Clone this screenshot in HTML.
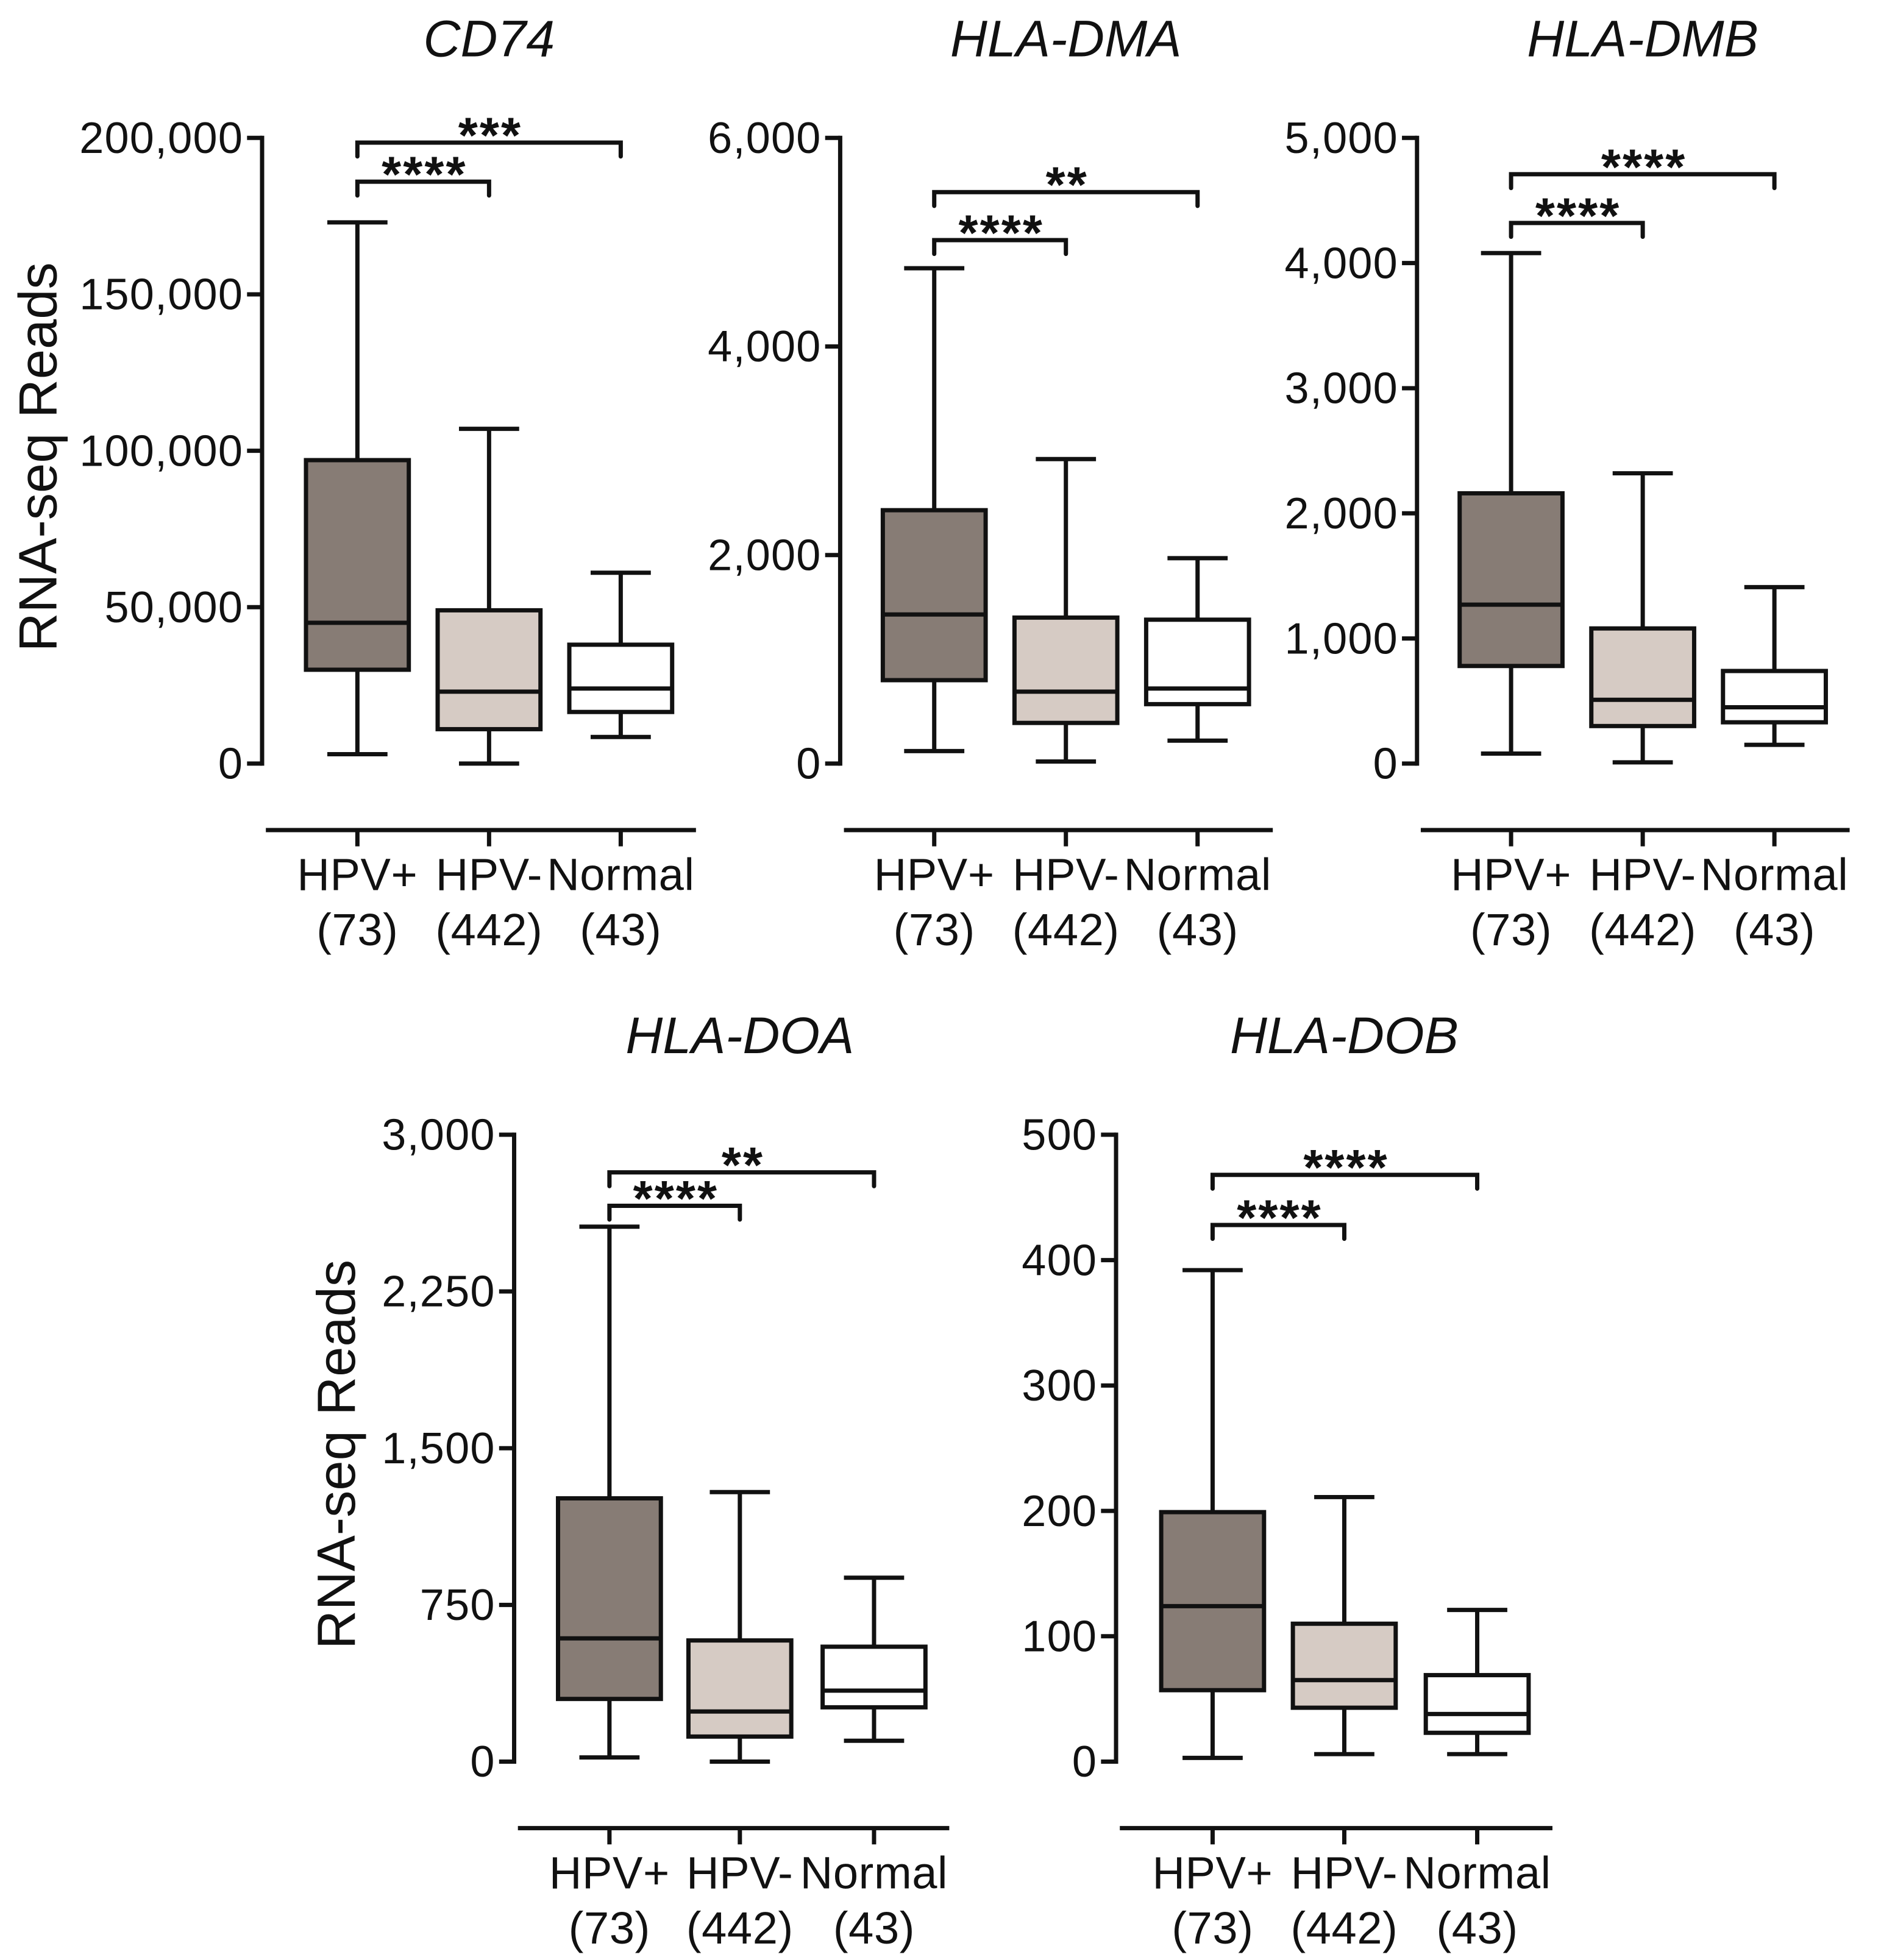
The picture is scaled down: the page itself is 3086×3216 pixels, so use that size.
<!DOCTYPE html>
<html><head><meta charset="utf-8">
<style>
html,body{margin:0;padding:0;background:#fff;}
svg{display:block;}
text{font-family:"Liberation Sans",Arial,sans-serif;fill:#111;}
</style></head>
<body>
<svg id="fig" width="3086" height="3216" viewBox="0 0 1500 1563.2" xmlns="http://www.w3.org/2000/svg"></svg>
<script>
// ---- data ----
const groups = ["HPV+", "HPV-", "Normal"];
const groupCounts = ["(73)", "(442)", "(43)"];
const genes = ["CD74", "HLA-DMA", "HLA-DMB", "HLA-DOA", "HLA-DOB"];
const yMaxes = [200000, 6000, 5000, 3000, 500];
const tickStep = [50000, 2000, 1000, 750, 100];
// [whiskerLow, q1, median, q3, whiskerHigh] per group
const cd74Stats = [[3000,30000,45000,97000,173000],[0,11000,23000,49000,107000],[8500,16500,24000,38000,61000]];
const dmaStats = [[120,800,1430,2430,4750],[20,390,690,1400,2920],[220,570,720,1380,1970]];
const dmbStats = [[80,780,1270,2160,4080],[10,300,510,1080,2320],[150,330,450,740,1410]];
const doaStats = [[20,300,590,1260,2560],[0,120,240,580,1290],[100,260,340,550,880]];
const dobStats = [[3,57,124,199,392],[6,43,65,110,211],[6,23,38,69,121]];
const allStats = [cd74Stats, dmaStats, dmbStats, doaStats, dobStats];
// significance brackets: [value of bracket1 (HPV+ vs HPV-), value of bracket2 (HPV+ vs Normal)]
const bracketVals = [[186000,198500],[5020,5480],[4320,4710],[2660,2820],[428,468]];
const bracketLabels = [["****","***"],["****","**"],["****","****"],["****","**"],["****","****"]];

// ---- layout (not data) ----
const layout = [
  {ax:209, top:110, zero:609, gx:[285,390,495], showY:true, ytx:30},
  {ax:670, top:110, zero:609, gx:[745,850,955], showY:false},
  {ax:1130, top:110, zero:609, gx:[1205,1310,1415], showY:false},
  {ax:410, top:905, zero:1405, gx:[486,590,697], showY:true, ytx:268},
  {ax:890, top:905, zero:1405, gx:[967,1072,1178], showY:false}
];
const fills = ["#877c75","#d6cbc4","#ffffff"];
const SW = 3.4;
const svg = document.getElementById('fig');
const NS = "http://www.w3.org/2000/svg";
function mk(tag, attrs, parent){
  const e = document.createElementNS(NS, tag);
  for (const k in attrs) e.setAttribute(k, attrs[k]);
  (parent||svg).appendChild(e);
  return e;
}
function fmt(v){ return v.toLocaleString('en-US'); }

genes.forEach((gene, pi) => {
  const L = layout[pi];
  const g = mk('g', {});
  
  
  const y = v => L.zero - (v / yMaxes[pi]) * (L.zero - L.top);
  const t = mk('text', {x: L.gx[1], y: L.top - 65, 'font-size': 41, 'font-style':'italic', 'text-anchor':'middle'}, g);
  
  
  t.textContent = gene;
  const ya = mk('line', {x1:L.ax, x2:L.ax, y1:L.top - SW/2, y2:L.zero + SW/2, stroke:'#111', 'stroke-width':SW}, g);
  
  
  for (let v = 0; v <= yMaxes[pi] + 1e-9; v += tickStep[pi]) {
    const tk = mk('line', {x1:L.ax - 12, x2:L.ax, y1:y(v), y2:y(v), stroke:'#111', 'stroke-width':SW}, g);
    
    
    const tl = mk('text', {x:L.ax - 15, y:y(v) + 12, 'font-size':35, 'text-anchor':'end', 'letter-spacing':0.6}, g);
    
    
    tl.textContent = fmt(v);
  }
  if (L.showY) {
    const cy = (L.top + L.zero) / 2 + 5;
    const yt = mk('text', {x:L.ytx + 15, y:cy, 'font-size':43, 'text-anchor':'middle', transform:`rotate(-90 ${L.ytx+15} ${cy})`}, g);
    
    
    yt.textContent = 'RNA-seq Reads';
  }
  const xaY = L.zero + 53;
  const xa = mk('line', {x1:L.ax + 3, x2:L.gx[2] + 60, y1:xaY, y2:xaY, stroke:'#111', 'stroke-width':SW}, g);
  
  
  groups.forEach((grp, gi) => {
    const cx = L.gx[gi];
    const xt = mk('line', {x1:cx, x2:cx, y1:xaY, y2:xaY + 13, stroke:'#111', 'stroke-width':SW}, g);
    
    
    const l1 = mk('text', {x:cx, y:xaY + 48, 'font-size':36, 'text-anchor':'middle', 'letter-spacing':0.3}, g);
    
    
    l1.textContent = grp;
    const l2 = mk('text', {x:cx, y:xaY + 92, 'font-size':36, 'text-anchor':'middle', 'letter-spacing':0.3}, g);
    
    
    l2.textContent = groupCounts[gi];
    const s = allStats[pi][gi];
    const bg = mk('g', {stroke:'#111', 'stroke-width':SW, fill:'none'}, g);
    
    
    mk('line', {x1:cx, x2:cx, y1:y(s[0]), y2:y(s[1])}, bg);
    mk('line', {x1:cx, x2:cx, y1:y(s[3]), y2:y(s[4])}, bg);
    mk('line', {x1:cx-24, x2:cx+24, y1:y(s[0]), y2:y(s[0])}, bg);
    mk('line', {x1:cx-24, x2:cx+24, y1:y(s[4]), y2:y(s[4])}, bg);
    mk('rect', {x:cx-41, y:y(s[3]), width:82, height:y(s[1]) - y(s[3]), fill:fills[gi]}, bg);
    mk('line', {x1:cx-41, x2:cx+41, y1:y(s[2]), y2:y(s[2])}, bg);
  });
  [1, 2].forEach((target, bi) => {
    const by = y(bracketVals[pi][bi]);
    const x1 = L.gx[0], x2 = L.gx[target];
    const br = mk('path', {d:`M${x1},${by+11} V${by} H${x2} V${by+11}`, stroke:'#111', 'stroke-width':SW, fill:'none', 'stroke-linecap':'round'}, g);
    
    
    const st = mk('text', {x:(x1 + x2) / 2 + 1, y:by + 8, 'font-size':40, 'font-weight':'bold', 'text-anchor':'middle', 'letter-spacing':1.5}, g);
    
    
    st.textContent = bracketLabels[pi][bi];
  });
});
</script>
</body></html>
